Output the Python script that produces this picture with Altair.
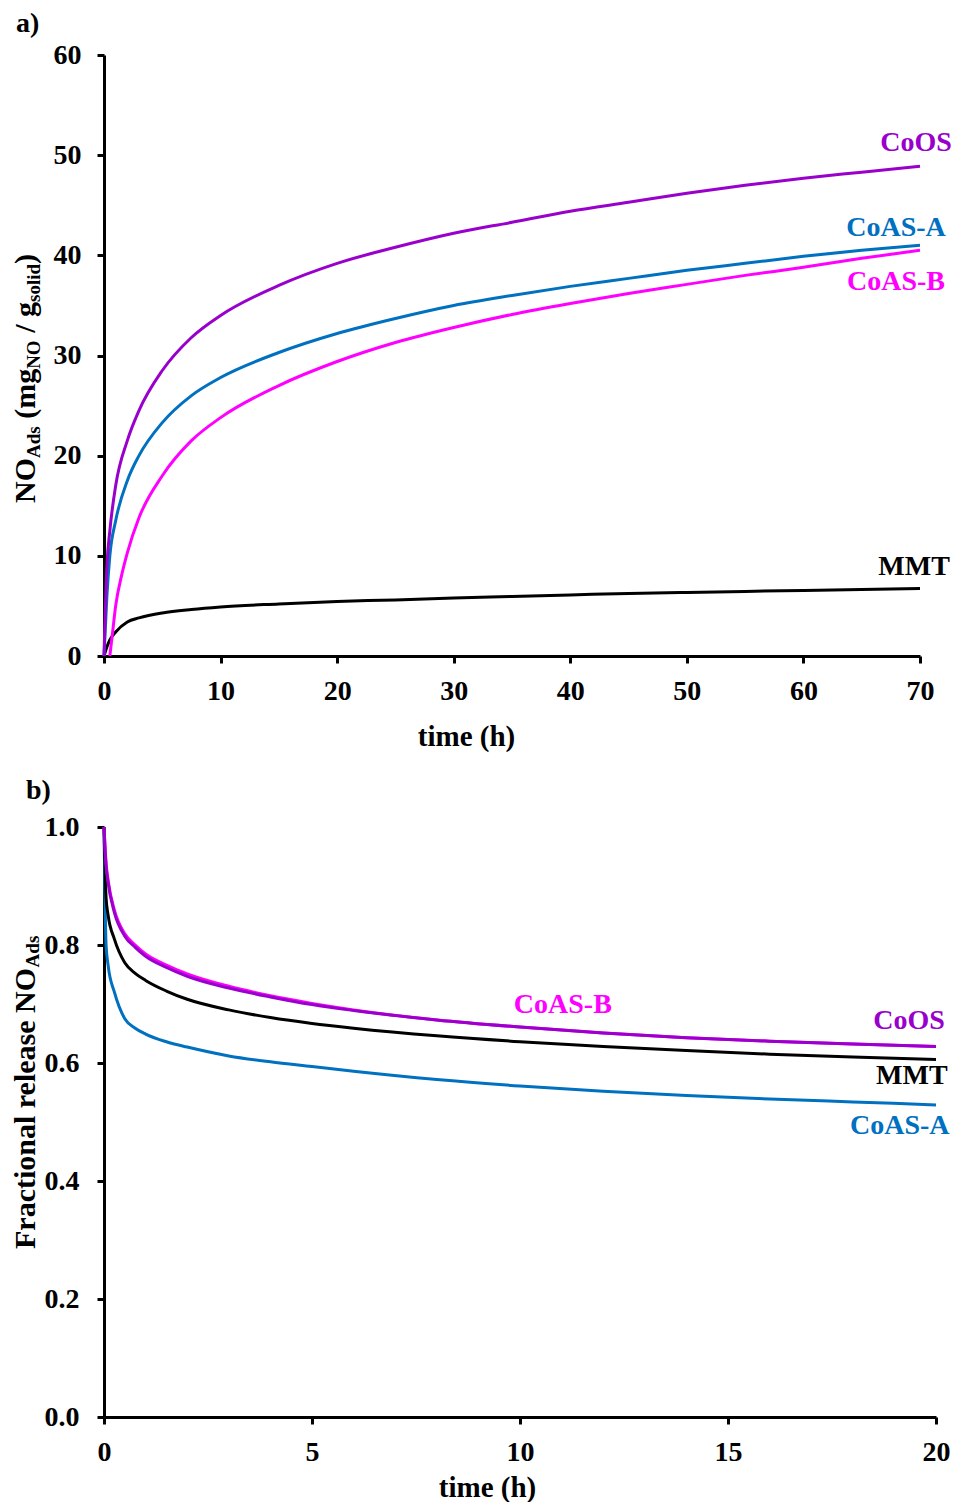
import altair as alt
import pandas as pd

FONT = "Liberation Serif"
PURPLE = "#9900CC"
BLUE = "#0070C0"
MAGENTA = "#FF00FF"
BLACK = "#000000"

# ---------------- Panel a data ----------------
t_a = [0, 0.25, 0.5, 1, 2, 3, 5, 7.5, 10, 15, 20, 25, 30, 35, 40, 45, 50, 55, 60, 65, 70]
coos_a = [0, 9, 12.5, 17, 21.5, 24.5, 28.5, 31.8, 34, 37, 39.2, 40.8, 42.2, 43.3, 44.4, 45.3, 46.2, 47, 47.7, 48.3, 48.9]
coasa_a = [0, 6, 10, 13.5, 17.5, 20, 23.3, 26, 27.8, 30.3, 32.2, 33.7, 35, 36, 36.9, 37.7, 38.5, 39.2, 39.9, 40.5, 41.0]
mmt_a = [0, 0.9, 1.6, 2.4, 3.4, 3.8, 4.3, 4.65, 4.9, 5.2, 5.45, 5.6, 5.8, 5.95, 6.1, 6.25, 6.35, 6.45, 6.55, 6.65, 6.75]
t_b_a = [0.5, 0.75, 1, 1.5, 2, 3, 5, 7.5, 10, 15, 20, 25, 30, 35, 40, 45, 50, 55, 60, 65, 70]
coasb_a = [0, 2.5, 5, 8, 10.3, 13.8, 18, 21.5, 23.8, 27, 29.4, 31.3, 32.8, 34.1, 35.2, 36.2, 37.1, 38, 38.8, 39.7, 40.5]

# ---------------- Panel b data ----------------
t_b = [0, 0.05, 0.1, 0.25, 0.5, 0.75, 1, 1.5, 2, 3, 4, 5, 6, 8, 10, 12, 14, 16, 18, 20]
coos_b = [1.0, 0.935, 0.905, 0.855, 0.815, 0.796, 0.781, 0.762, 0.747, 0.727, 0.712, 0.699, 0.689, 0.673, 0.661, 0.651, 0.643, 0.637, 0.632, 0.628]
coasb_b = [1.0, 0.939, 0.909, 0.859, 0.819, 0.800, 0.785, 0.766, 0.751, 0.730, 0.714, 0.701, 0.690, 0.673, 0.661, 0.651, 0.643, 0.637, 0.632, 0.628]
mmt_b = [1.0, 0.88, 0.85, 0.81, 0.77, 0.752, 0.74, 0.722, 0.708, 0.69, 0.677, 0.667, 0.659, 0.646, 0.636, 0.628, 0.621, 0.615, 0.61, 0.606]
coasa_b = [1.0, 0.80, 0.765, 0.72, 0.675, 0.659, 0.649, 0.636, 0.627, 0.612, 0.602, 0.594, 0.586, 0.572, 0.561, 0.552, 0.545, 0.539, 0.534, 0.529]

# ---------------- Curve labels (data coordinates) ----------------
lab_a_names = ["CoOS", "CoAS-A", "CoAS-B", "MMT"]
lab_a_t = [69.66, 67.94, 67.94, 69.49]
lab_a_v = [51.2, 42.73, 37.34, 8.88]
lab_a_col = [PURPLE, BLUE, MAGENTA, BLACK]

lab_b_names = ["CoAS-B", "CoOS", "MMT", "CoAS-A"]
lab_b_t = [11.03, 19.35, 19.42, 19.13]
lab_b_v = [0.698, 0.671, 0.578, 0.493]
lab_b_col = [MAGENTA, PURPLE, BLACK, BLUE]

# Times/Liberation Serif Bold advance widths (per 1000 em)
W = {" ": 250, "(": 333, ")": 333, "/": 278, "A": 722, "F": 611, "N": 722, "O": 778,
     "a": 500, "c": 444, "d": 556, "e": 444, "g": 500, "i": 278, "l": 278, "m": 833,
     "n": 556, "o": 500, "r": 444, "s": 389, "t": 333}


def tw(s, size):
    return sum(W.get(c, 500) for c in s) * size / 1000.0


def rotated_title(parts, x_main, x_sub, y_start, ox, oy):
    """parts: list of (text, size, is_sub). returns list of text layers
    (pixel positions relative to plot origin ox, oy)."""
    layers = []
    y = y_start
    for text, size, sub in parts:
        if text.strip():
            layers.append(
                alt.Chart(pd.DataFrame({"s": [text]})).mark_text(
                    font=FONT, fontWeight="bold", fontSize=size, angle=270,
                    align="left", baseline="alphabetic", color="black"
                ).encode(
                    x=alt.value((x_sub if sub else x_main) - ox),
                    y=alt.value(y - oy),
                    text="s:N",
                )
            )
        y -= tw(text, size)
    return layers


def series_line(t, v, color, xs, ys):
    df = pd.DataFrame({"t": t, "v": v})
    return alt.Chart(df).mark_line(color=color, strokeWidth=3, interpolate="monotone").encode(
        x=alt.X("t:Q", scale=xs), y=alt.Y("v:Q", scale=ys)
    )


def labels(names, ts, vs, cols, xs, ys):
    df = pd.DataFrame({"name": names, "t": ts, "v": vs, "col": cols})
    return alt.Chart(df).mark_text(
        font=FONT, fontWeight="bold", fontSize=28, align="center", baseline="middle"
    ).encode(
        x=alt.X("t:Q", scale=xs), y=alt.Y("v:Q", scale=ys), text="name:N",
        color=alt.Color("col:N", scale=None),
    )


def axis_common(**kw):
    base = dict(domainColor="black", domainWidth=3, tickColor="black", tickWidth=3, tickSize=7,
                grid=False, labelFont=FONT, labelFontWeight="bold", labelFontSize=28,
                labelColor="black", labelFlush=False, titleFont=FONT, titleFontWeight="bold",
                titleFontSize=29, titleColor="black")
    base.update(kw)
    return alt.Axis(**base)


# ---------------- Panel a ----------------
OXA, OYA = 103, 55
xs_a = alt.Scale(domain=[0, 70], nice=False)
ys_a = alt.Scale(domain=[0, 60], nice=False)

axes_a = alt.Chart(pd.DataFrame({"t": [0], "v": [0]})).mark_point(opacity=0).encode(
    x=alt.X("t:Q", scale=xs_a, axis=axis_common(values=list(range(0, 71, 10)), title="time (h)",
                                                 labelPadding=14, titleX=362, titleY=89,
                                                 titleAlign="center", titleBaseline="alphabetic")),
    y=alt.Y("v:Q", scale=ys_a, axis=axis_common(values=list(range(0, 61, 10)), title=None,
                                                 labelPadding=16)),
)

title_a = rotated_title(
    [("NO", 30, False), ("Ads", 19, True), (" ", 30, False), ("(mg", 30, False), ("NO", 19, True),
     (" ", 30, False), ("/", 30, False), (" ", 30, False), ("g", 30, False), ("solid", 19, True),
     (")", 30, False)],
    x_main=34, x_sub=39, y_start=503, ox=OXA, oy=OYA)

tag_a = alt.Chart(pd.DataFrame({"s": ["a)"]})).mark_text(
    font=FONT, fontWeight="bold", fontSize=28, align="left", baseline="alphabetic", color="black"
).encode(x=alt.value(15 - OXA), y=alt.value(32 - OYA), text="s:N")

panel_a = alt.layer(
    axes_a,
    series_line(t_a, mmt_a, BLACK, xs_a, ys_a),
    series_line(t_b_a, coasb_a, MAGENTA, xs_a, ys_a),
    series_line(t_a, coasa_a, BLUE, xs_a, ys_a),
    series_line(t_a, coos_a, PURPLE, xs_a, ys_a),
    labels(lab_a_names, lab_a_t, lab_a_v, lab_a_col, xs_a, ys_a),
    tag_a,
    *title_a,
).properties(width=816, height=601)

# ---------------- Panel b ----------------
OXB, OYB = 103, 828
xs_b = alt.Scale(domain=[0, 20], nice=False)
ys_b = alt.Scale(domain=[0, 1], nice=False)

axes_b = alt.Chart(pd.DataFrame({"t": [0], "v": [0]})).mark_point(opacity=0).encode(
    x=alt.X("t:Q", scale=xs_b, axis=axis_common(values=[0, 5, 10, 15, 20], title="time (h)",
                                                 labelPadding=14, titleX=383, titleY=79,
                                                 titleAlign="center", titleBaseline="alphabetic")),
    y=alt.Y("v:Q", scale=ys_b, axis=axis_common(values=[0, 0.2, 0.4, 0.6, 0.8, 1.0], format=".1f",
                                                 title=None, labelPadding=18)),
)

title_b = rotated_title(
    [("Fractional release NO", 30, False), ("Ads", 19, True)],
    x_main=34, x_sub=38, y_start=1250, ox=OXB, oy=OYB)

tag_b = alt.Chart(pd.DataFrame({"s": ["b)"]})).mark_text(
    font=FONT, fontWeight="bold", fontSize=28, align="left", baseline="alphabetic", color="black"
).encode(x=alt.value(25 - OXB), y=alt.value(800 - OYB), text="s:N")

panel_b = alt.layer(
    axes_b,
    series_line(t_b, coasa_b, BLUE, xs_b, ys_b),
    series_line(t_b, mmt_b, BLACK, xs_b, ys_b),
    series_line(t_b, coasb_b, MAGENTA, xs_b, ys_b),
    series_line(t_b, coos_b, PURPLE, xs_b, ys_b),
    labels(lab_b_names, lab_b_t, lab_b_v, lab_b_col, xs_b, ys_b),
    tag_b,
    *title_b,
).properties(width=832, height=590)

chart = alt.vconcat(panel_a, panel_b, spacing=26).properties(
    padding={"left": 10, "top": 10, "right": 0, "bottom": 0},
    background="white",
).configure_view(stroke=None)

chart.save("out.html", embed_options={"renderer": "svg", "actions": False})
